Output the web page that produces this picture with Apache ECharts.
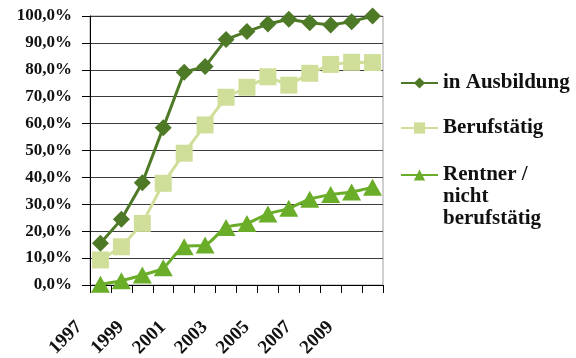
<!DOCTYPE html>
<html>
<head>
<meta charset="utf-8">
<script src="https://cdn.jsdelivr.net/npm/echarts@6/dist/echarts.min.js"></script>
<style>
html,body{margin:0;padding:0;background:#fff;}
#c{width:576px;height:358px;}
</style>
</head>
<body>
<div id="c"></div>
<script>
const years = ['1997','1998','1999','2000','2001','2002','2003','2004','2005','2006','2007','2008','2009','2010'];
const ausbildung = [15.5, 24.4, 38.0, 58.5, 79.1, 81.2, 91.3, 94.2, 97.0, 98.8, 97.5, 96.7, 97.9, 100.0];
const berufstaetig = [9.3, 14.2, 22.9, 37.8, 49.0, 59.5, 69.8, 73.5, 77.4, 74.3, 78.7, 82.0, 82.8, 82.7];
const rentner = [0.3, 1.6, 3.7, 6.4, 14.2, 14.9, 21.4, 22.9, 26.4, 28.5, 31.9, 33.6, 34.6, 36.3];
const seriesNames = ['in Ausbildung', 'Berufstätig', 'Rentner / nicht berufstätig'];

const FONT = 'Liberation Serif';
const chart = echarts.init(document.getElementById('c'), null, {renderer: 'canvas'});

function legendOf(name, top, text) {
  return {
    data: [name], left: 400, top: top, orient: 'vertical', padding: 0,
    itemWidth: 37, itemHeight: 14, itemGap: 5, selectedMode: false,
    formatter: function () { return text; },
    textStyle: {fontFamily: FONT, fontWeight: 'bold', fontSize: 21, color: '#111', lineHeight: 22}
  };
}

chart.setOption({
  animation: false,
  grid: {left: 90, right: 193, top: 16, bottom: 73, show: true, borderColor: '#a0a0a0', borderWidth: 1,
    containLabel: false, outerBoundsMode: 'none'},
  legend: [
    legendOf(seriesNames[0], 72, 'in Ausbildung'),
    legendOf(seriesNames[1], 117, 'Berufstätig'),
    legendOf(seriesNames[2], 120, '\n\nRentner /\nnicht\nberufstätig')
  ],
  xAxis: {
    type: 'category', data: years, boundaryGap: true,
    axisLine: {lineStyle: {color: '#000', width: 1}},
    axisTick: {show: true, interval: 0, length: 8, lineStyle: {color: '#000'}},
    axisLabel: {interval: 1, rotate: 45, margin: 18, padding: [0, 30, 0, 0],
      fontFamily: FONT, fontWeight: 'bold', fontSize: 19, color: '#111'}
  },
  yAxis: {
    type: 'value', min: 0, max: 100, interval: 10,
    axisLine: {show: true, lineStyle: {color: '#000', width: 1}},
    axisTick: {show: true, length: 8, lineStyle: {color: '#000'}},
    splitLine: {show: true, lineStyle: {color: '#3c3c3c', width: 1}},
    axisLabel: {margin: 18, fontFamily: FONT, fontWeight: 'bold', fontSize: 17, color: '#111',
      formatter: function (v) { return v.toFixed(1).replace('.', ',') + '%'; }}
  },
  series: [
    {name: seriesNames[0], type: 'line', data: ausbildung, symbol: 'diamond', symbolSize: [17, 17], showAllSymbol: true,
      color: '#4E7A27', lineStyle: {width: 3, color: '#4E7A27'}, itemStyle: {color: '#4E7A27'}, z: 4},
    {name: seriesNames[1], type: 'line', data: berufstaetig, symbol: 'rect', symbolSize: [17, 17], showAllSymbol: true,
      color: '#CFDF9A', lineStyle: {width: 3, color: '#CFDF9A'}, itemStyle: {color: '#CFDF9A'}, z: 3},
    {name: seriesNames[2], type: 'line', data: rentner, symbol: 'triangle', symbolSize: [19, 17], smooth: 0.3, showAllSymbol: true,
      color: '#6AAD29', lineStyle: {width: 3, color: '#6AAD29'}, itemStyle: {color: '#6AAD29'}, z: 2}
  ]
});
</script>
</body>
</html>
